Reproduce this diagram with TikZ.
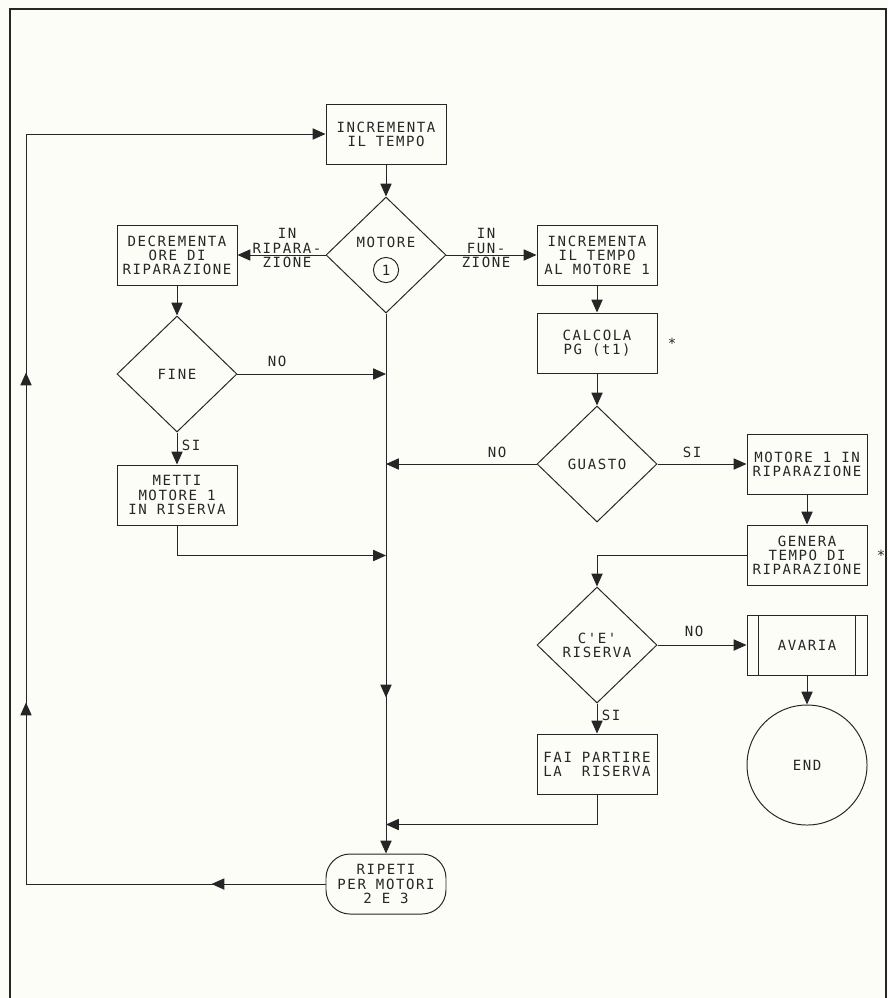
\documentclass[tikz,border=0pt]{standalone}
\usepackage{fontspec}
\usetikzlibrary{arrows.meta,positioning,shapes.geometric,decorations.markings}
\newfontfamily\plotter[LetterSpace=11]{DejaVu Sans Mono}
\definecolor{paper}{RGB}{253,253,248}
\definecolor{ink}{RGB}{38,38,38}

\begin{document}
\begin{tikzpicture}[
  x=0.25mm,y=-0.25mm,
  font=\plotter\fontsize{10pt}{10pt}\selectfont,
  every node/.append style={text=ink},
  box/.style={draw=ink,line width=.7pt,align=center,inner sep=1pt,minimum width=30mm,minimum height=15mm},
  dec/.style={box,diamond,minimum height=29mm},
  term/.style={box,rounded corners=6mm},
  lbl/.style={align=center,inner sep=0pt},
  tip/.tip={Triangle[length=3.2mm,width=2.8mm]},
  arr/.style={-tip,draw=ink,line width=.7pt},
  midtip/.style={postaction={decorate},decoration={markings,mark=at position #1 with {\arrow{tip}}}},
  on grid
]
\fill[paper] (0,0) rectangle (888,998);
\useasboundingbox (0,0) rectangle (888,998);
\draw[ink,line width=1.3pt] (10,998) -- (10,9) -- (886,9) -- (886,998);

% central column
\node[box] (tempo) at (386,134) {INCREMENTA\\IL TEMPO};
\node[dec,below=30.25mm of tempo] (motore) {};
\node[lbl,above=3.25mm of motore] (motlbl) {MOTORE};
\node[circle,draw=ink,line width=.7pt,inner sep=0pt,minimum size=6.3mm,below=3.75mm of motore] (motnum) {1};
\node[term,below=157.25mm of motore] (ripeti) {RIPETI\\PER MOTORI\\2 E 3};

% left column
\node[box,left=52.25mm of motore] (ripara) {DECREMENTA\\ORE DI\\RIPARAZIONE};
\node[dec,below=29.75mm of ripara] (fine) {FINE};
\node[box,below=30.25mm of fine] (metti) {METTI\\MOTORE 1\\IN RISERVA};

% right columns
\node[box,right=52.75mm of motore] (incr) {INCREMENTA\\IL TEMPO\\AL MOTORE 1};
\node[box,below=22mm of incr] (calcola) {CALCOLA\\PG (t1)};
\node[dec,below=30.25mm of calcola] (guasto) {GUASTO};
\node[dec,below=45.25mm of guasto] (riserva) {C'E'\\RISERVA};
\node[box,below=29.75mm of riserva] (parti) {FAI PARTIRE\\LA\ \ RISERVA};
\node[box,right=52.5mm of guasto] (inrip) {MOTORE 1 IN\\RIPARAZIONE};
\node[box,below=22.75mm of inrip] (genera) {GENERA\\TEMPO DI\\RIPARAZIONE};
\node[box,right=52.5mm of riserva] (avaria) {AVARIA};
\node[circle,draw=ink,line width=.7pt,minimum size=30mm,below=30mm of avaria] (endc) {END};
\draw[ink,line width=.7pt] ([xshift=3mm]avaria.north west) -- ([xshift=3mm]avaria.south west)
  ([xshift=-3mm]avaria.north east) -- ([xshift=-3mm]avaria.south east);
\node[lbl,right=18.75mm of calcola] (ast1) {*};
\node[lbl,right=18.5mm of genera] (ast2) {*};

% labels
\node[lbl] (lripa) at (287,248) {IN\\RIPARA-\\ZIONE};
\node[lbl] (lfunz) at (486,248) {IN\\FUN-\\ZIONE};
\node[lbl] (lfine) at (277,361) {NO};
\node[lbl] (lfsi) at (191,445) {SI};
\node[lbl] (lgno) at (497,452) {NO};
\node[lbl] (lgsi) at (692,452) {SI};
\node[lbl] (lrno) at (694,631) {NO};
\node[lbl] (lrsi) at (611,715) {SI};

\coordinate[below=7.5mm of metti.south] (mj);
\coordinate[below=7.5mm of parti.south] (pj);
\coordinate (loop) at (26,134);

\draw[arr] (tempo) -- (motore);
\draw[arr] (motore.west) -- (ripara.east); \draw[arr] (motore.east) -- (incr.west);
\draw[arr] (ripara) -- (fine); \draw[arr] (fine) -- (metti);
\draw[arr] (fine.east) -- (fine.east -| motore.south);
\draw[arr] (metti.south) -- (mj) -- (mj -| motore.south);
\draw[arr] (incr) -- (calcola); \draw[arr] (calcola) -- (guasto);
\draw[arr] (guasto.west) -- (guasto.west -| motore.south);
\draw[arr] (guasto.east) -- (inrip.west); \draw[arr] (inrip) -- (genera);
\draw[arr] (genera.west) -| (riserva.north);
\draw[arr] (riserva.east) -- (avaria.west); \draw[arr] (avaria) -- (endc);
\draw[arr] (riserva) -- (parti);
\draw[arr] (parti.south) -- (pj) -- (pj -| motore.south);
\draw[arr,midtip=96mm] (motore.south) -- (ripeti.north);
\draw[arr,postaction={decorate},decoration={markings,
    mark=at position 28.5mm with {\arrow{tip}},
    mark=at position 120.25mm with {\arrow{tip}},
    mark=at position 202.75mm with {\arrow{tip}}}]
  (ripeti.west) -| (loop) -- (tempo.west);
\end{tikzpicture}
\end{document}
